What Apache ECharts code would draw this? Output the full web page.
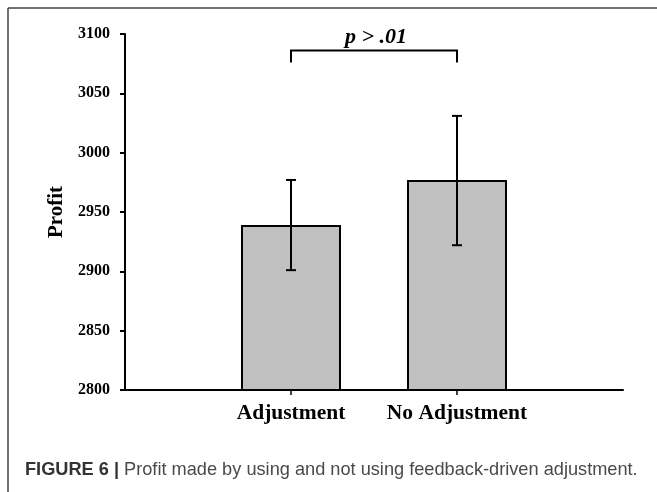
<!DOCTYPE html>
<html>
<head>
<meta charset="utf-8">
<script src="https://cdn.jsdelivr.net/npm/echarts@6/dist/echarts.min.js"></script>
<style>
html,body{margin:0;padding:0;background:#fff;}
#chart{width:657px;height:492px;}
</style>
</head>
<body>
<div id="chart"></div>
<script>
// ---- data ----
const categories = ['Adjustment', 'No Adjustment'];
const profit = [2939, 2977];
const errLow = [2901, 2922];
const errHigh = [2977, 3031];
const yMin = 2800, yMax = 3100, yStep = 50;
const bracketLow = 3076, bracketHigh = 3086;
const pLabel = 'p > .01';
const yName = 'Profit';
const captionBold = 'FIGURE 6 | ';
const captionText = 'Profit made by using and not using feedback-driven adjustment.';

// ---- chart ----
const axisCats = [''].concat(categories, ['']);
const barData = ['-'].concat(profit, ['-']);
const errData = categories.map((c, i) => [i + 1, errLow[i], errHigh[i]]);
const bracketData = [[1, categories.length, bracketLow, bracketHigh]];
const serif = 'Liberation Serif, Times New Roman, serif';

const chart = echarts.init(document.getElementById('chart'), null, {renderer: 'canvas'});
chart.setOption({
  animation: false,
  backgroundColor: '#fff',
  grid: {left: 125, top: 34, width: 498, height: 356, containLabel: false},
  xAxis: {
    type: 'category',
    data: axisCats,
    boundaryGap: false,
    axisLine: {lineStyle: {color: '#000', width: 2}},
    axisTick: {show: true, length: 5, lineStyle: {color: '#000', width: 1.5},
      interval: (i) => i >= 1 && i <= categories.length},
    axisLabel: {interval: 0, margin: 12, color: '#000', fontFamily: serif, fontWeight: 'bold', fontSize: 21.5},
    splitLine: {show: false}
  },
  yAxis: {
    type: 'value',
    min: yMin, max: yMax, interval: yStep,
    name: yName,
    nameLocation: 'middle',
    nameGap: 56,
    nameTextStyle: {color: '#000', fontFamily: serif, fontWeight: 'bold', fontSize: 21},
    axisLine: {show: true, lineStyle: {color: '#000', width: 2}},
    axisTick: {show: true, length: 5, lineStyle: {color: '#000', width: 2}},
    axisLabel: {margin: 15, color: '#000', fontFamily: serif, fontWeight: 'bold', fontSize: 16,
      formatter: (v) => String(v)},
    splitLine: {show: false}
  },
  series: [
    {
      type: 'bar',
      data: barData,
      barWidth: 100,
      itemStyle: {color: '#c0c0c0', borderColor: '#000', borderWidth: 2},
      z: 2
    },
    {
      type: 'custom',
      data: errData,
      z: 3,
      renderItem: function (params, api) {
        const lo = api.coord([api.value(0), api.value(1)]);
        const hi = api.coord([api.value(0), api.value(2)]);
        const cw = 5;
        const st = {stroke: '#000', lineWidth: 2};
        return {type: 'group', children: [
          {type: 'line', shape: {x1: lo[0], y1: lo[1], x2: hi[0], y2: hi[1]}, style: st},
          {type: 'line', shape: {x1: hi[0] - cw, y1: hi[1], x2: hi[0] + cw, y2: hi[1]}, style: st},
          {type: 'line', shape: {x1: lo[0] - cw, y1: lo[1], x2: lo[0] + cw, y2: lo[1]}, style: st}
        ]};
      }
    },
    {
      type: 'custom',
      data: bracketData,
      z: 3,
      renderItem: function (params, api) {
        const aLo = api.coord([api.value(0), api.value(2)]);
        const aHi = api.coord([api.value(0), api.value(3)]);
        const bLo = api.coord([api.value(1), api.value(2)]);
        const bHi = api.coord([api.value(1), api.value(3)]);
        return {type: 'group', children: [
          {type: 'polyline', shape: {points: [[aLo[0], aLo[1]], [aHi[0], aHi[1]], [bHi[0], bHi[1]], [bLo[0], bLo[1]]]},
            style: {stroke: '#000', lineWidth: 2, fill: null}},
          {type: 'text', x: (aHi[0] + bHi[0]) / 2 + 2, y: aHi[1] - 2,
            style: {text: pLabel, fill: '#000', font: 'italic bold 22px ' + serif, align: 'center', verticalAlign: 'bottom'}}
        ]};
      }
    }
  ],
  graphic: [
    {type: 'line', shape: {x1: 8, y1: 8, x2: 657, y2: 8}, style: {stroke: '#444', lineWidth: 1.5}},
    {type: 'line', shape: {x1: 8, y1: 8, x2: 8, y2: 492}, style: {stroke: '#444', lineWidth: 1.5}},
    {type: 'text', left: 25, top: 461,
      style: {
        text: '{b|' + captionBold + '}{r|' + captionText + '}',
        rich: {
          b: {fontFamily: 'Liberation Sans, Arial, sans-serif', fontWeight: 'bold', fontSize: 18.2, fill: '#333'},
          r: {fontFamily: 'Liberation Sans, Arial, sans-serif', fontSize: 18.2, fill: '#4a4a4a'}
        }
      }}
  ]
});
</script>
</body>
</html>
